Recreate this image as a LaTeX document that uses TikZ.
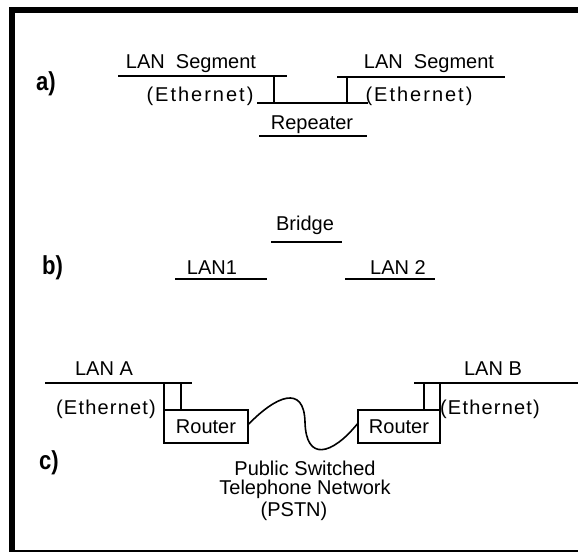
\documentclass[tikz,border=0pt]{standalone}
\usepackage{fontspec}
\setmainfont{Liberation Sans}
\newfontfamily\ethA{Liberation Sans}[LetterSpace=10]
\newfontfamily\ethC{Liberation Sans}[LetterSpace=6]
\newfontfamily\secfont{Liberation Sans}[FakeStretch=0.85]
\begin{document}
\begin{tikzpicture}[x=1pt,y=-1pt,
  lbl/.style={font=\fontsize{20}{24}\selectfont, inner sep=0pt, anchor=base},
  etha/.style={font=\ethA\fontsize{20}{24}\selectfont, inner sep=0pt, anchor=base},
  ethc/.style={font=\ethC\fontsize{20}{24}\selectfont, inner sep=0pt, anchor=base},
  sec/.style={font=\secfont\bfseries\fontsize{26}{30}\selectfont, inner sep=0pt, anchor=base west},
  seg/.style={line width=1.8pt},
  wire/.style={line width=1.6pt},
  routerbox/.style={draw, line width=1.5pt, minimum height=33pt, inner sep=0pt,
    font=\fontsize{20}{24}\selectfont}]
\useasboundingbox (0,0) rectangle (578,552);
% frame
\fill (9,7) rectangle (15,552);
\fill (9,7) rectangle (578,13);
\draw[line width=1.2pt] (9,551) -- (578,551);

% ---------- a) ----------
\node[sec] (la) at (36,90) {a)};
\node[lbl] (ls1) at (191,68) {LAN\ \ Segment};
\node[lbl] (ls2) at (429,68) {LAN\ \ Segment};
\node[etha] (e1) at (200,101) {(Ethernet)};
\node[etha] (e2) at (419,101) {(Ethernet)};
\node[lbl] (rep) at (312,129) {Repeater};
\coordinate (a1) at (118,76); \coordinate (a2) at (287,76);
\coordinate (a3) at (337,77); \coordinate (a4) at (505,77);
\coordinate (r1) at (257,103); \coordinate (r2) at (368,103);
\coordinate (r3) at (259,136); \coordinate (r4) at (367,136);
\coordinate (v1t) at (274,76); \coordinate (v1b) at (274,103);
\coordinate (v2t) at (347,77); \coordinate (v2b) at (347,103);
\draw[seg] (a1) -- (a2);
\draw[seg] (a3) -- (a4);
\draw[seg] (r1) -- (r2);
\draw[seg] (r3) -- (r4);
\draw[seg] (v1t) -- (v1b);
\draw[seg] (v2t) -- (v2b);

% ---------- b) ----------
\node[sec] (lb) at (42,274) {b)};
\node[lbl] (br) at (305,230) {Bridge};
\node[lbl] (lan1) at (212,274) {LAN1};
\node[lbl] (lan2) at (398,274) {LAN 2};
\coordinate (b1) at (271,242); \coordinate (b2) at (342,242);
\coordinate (b3) at (175,279); \coordinate (b4) at (267,279);
\coordinate (b5) at (345,279); \coordinate (b6) at (435,279);
\draw[seg] (b1) -- (b2);
\draw[seg] (b3) -- (b4);
\draw[seg] (b5) -- (b6);

% ---------- c) ----------
\node[sec] (lc) at (39,469) {c)};
\node[lbl] (lana) at (104,375) {LAN A};
\node[lbl] (lanb) at (493,375) {LAN B};
\node[ethc] (e3) at (106,414) {(Ethernet)};
\node[ethc] (e4) at (490,414) {(Ethernet)};
\node[routerbox, minimum width=84pt] (rl) at (206,426.5) {Router};
\node[routerbox, minimum width=82pt] (rr) at (399,426.5) {Router};
\coordinate (c1) at (45,383); \coordinate (c2) at (192,383);
\coordinate (c3) at (414,383); \coordinate (c4) at (578,383);
\coordinate (w1t) at (164,383); \coordinate (w1b) at (164,410);
\coordinate (w2t) at (181,383); \coordinate (w2b) at (181,410);
\coordinate (w3t) at (424,383); \coordinate (w3b) at (424,410);
\coordinate (w4t) at (440,383); \coordinate (w4b) at (440,410);
\draw[seg] (c1) -- (c2);
\draw[seg] (c3) -- (c4);
\draw[wire] (w1t) -- (w1b);
\draw[wire] (w2t) -- (w2b);
\draw[wire] (w3t) -- (w3b);
\draw[wire] (w4t) -- (w4b);
\draw[wire] ([yshift=2.5pt]rl.east) .. controls (276,396) and (304,384) .. (305,422)
  .. controls (306,462) and (332,455) .. ([yshift=2.5pt]rr.west);
\node[lbl] (p1) at (305,475) {Public Switched};
\node[lbl] (p2) at (305,494) {Telephone Network};
\node[lbl] (p3) at (294,516) {(PSTN)};
\end{tikzpicture}
\end{document}
